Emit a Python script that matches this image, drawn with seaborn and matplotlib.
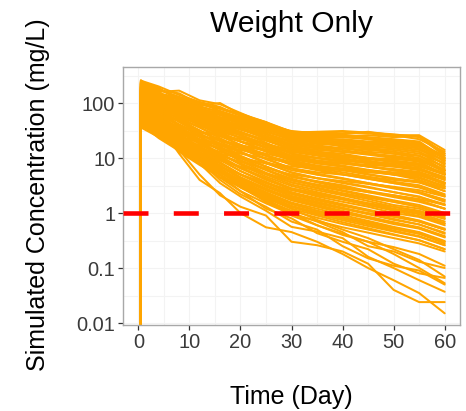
import matplotlib
matplotlib.use("Agg")
import matplotlib.pyplot as plt
import pandas as pd
import seaborn as sns
from matplotlib.ticker import FixedLocator, NullFormatter

# Sampling times (days); every profile starts from zero at the time of dosing
times = [0, 0.5, 4, 8, 12, 16, 20, 25, 30, 35, 40, 45, 50, 55, 60]

# Simulated concentrations (mg/L) per virtual subject at times[1:]
profiles = [
    [250, 175, 130, 100, 78, 60, 44, 30, 29, 30, 28, 25, 25, 12],
    [230, 160, 168, 112, 95, 66, 42, 29, 30, 31, 29, 26, 26, 14],
    [200, 180, 120, 90, 100, 62, 40, 28, 27, 28, 29, 27, 24, 11],
    [180, 140, 115, 85, 70, 52, 38, 27, 25, 26, 24, 22, 20, 10],
    [160, 130, 105, 80, 64, 50, 36, 26, 24, 24, 22, 21, 19, 9.5],
    [150, 120, 110, 75, 60, 46, 33, 24, 22, 22, 20, 19, 17, 8.5],
    [140, 115, 95, 70, 55, 42, 30, 22, 20, 19, 18, 17, 15, 7.5],
    [130, 105, 85, 66, 50, 40, 27, 20, 18, 17, 16, 15, 13, 6.5],
    [120, 100, 80, 60, 48, 36, 25, 18, 16, 15, 14, 13, 11, 6],
    [110, 95, 75, 57, 44, 33, 23, 16, 14, 13, 12, 11, 9.5, 5.5],
    [260, 150, 100, 70, 50, 35, 22, 14, 12, 11, 10, 9, 8, 5],
    [240, 140, 90, 60, 42, 30, 19, 12, 10, 9, 8, 7, 6.5, 4],
    [220, 130, 80, 55, 38, 26, 17, 11, 9, 8, 7, 6, 5.5, 3.5],
    [200, 120, 75, 50, 34, 23, 15, 10, 8, 7, 6, 5, 4.5, 3],
    [190, 110, 68, 44, 30, 20, 13, 9, 7, 6, 5, 4.2, 3.8, 2.5],
    [170, 100, 60, 40, 26, 17, 11, 7.5, 6, 5, 4.2, 3.5, 3, 2],
    [160, 95, 55, 36, 23, 15, 9.5, 6.5, 5, 4.2, 3.5, 2.9, 2.4, 1.7],
    [150, 85, 50, 32, 20, 13, 8, 5.5, 4.3, 3.6, 3, 2.4, 2, 1.4],
    [140, 80, 45, 28, 18, 11, 7, 4.8, 3.7, 3, 2.5, 2, 1.7, 1.2],
    [130, 75, 40, 25, 16, 10, 6.2, 4.2, 3.2, 2.6, 2.1, 1.7, 1.4, 1.0],
    [120, 70, 37, 22, 14, 8.8, 5.4, 3.6, 2.8, 2.2, 1.8, 1.4, 1.2, 0.85],
    [110, 62, 33, 20, 12, 7.6, 4.6, 3.1, 2.4, 1.9, 1.5, 1.2, 1.0, 0.7],
    [100, 56, 30, 18, 11, 6.6, 4, 2.7, 2.0, 1.6, 1.3, 1.0, 0.85, 0.6],
    [95, 50, 27, 16, 9.5, 5.8, 3.5, 2.3, 1.8, 1.4, 1.1, 0.9, 0.72, 0.5],
    [90, 46, 24, 14, 8.4, 5, 3, 2, 1.5, 1.2, 0.95, 0.75, 0.62, 0.42],
    [85, 42, 22, 12.5, 7.4, 4.4, 2.6, 1.7, 1.3, 1.0, 0.8, 0.63, 0.52, 0.36],
    [80, 38, 20, 11, 6.5, 3.8, 2.3, 1.5, 1.1, 0.85, 0.68, 0.54, 0.44, 0.3],
    [75, 35, 18, 10, 5.7, 3.3, 2, 1.3, 0.95, 0.74, 0.58, 0.46, 0.37, 0.26],
    [70, 32, 16, 9, 5, 2.9, 1.7, 1.1, 0.82, 0.63, 0.5, 0.4, 0.32, 0.22],
    [65, 30, 15, 8, 4.4, 2.5, 1.5, 0.95, 0.72, 0.55, 0.44, 0.35, 0.28, 0.2],
    [60, 45, 38, 30, 25, 20, 16, 13, 12, 11, 10, 9.5, 9, 6],
    [55, 40, 32, 26, 21, 17, 14, 11, 10, 9, 8.5, 8, 7, 5],
    [50, 36, 28, 22, 18, 15, 12, 9.5, 8.5, 8, 7.5, 7, 6, 4.5],
    [45, 32, 25, 19, 15, 12, 10, 8, 7, 6.5, 6, 5.5, 5, 3.5],
    [40, 30, 22, 17, 13, 10, 8, 6.5, 5.5, 5, 4.5, 4, 3.6, 2.8],
    [38, 27, 19, 14, 11, 8.5, 6.5, 5, 4.3, 3.8, 3.4, 3, 2.6, 2],
    [36, 24, 16, 12, 9, 7, 5.2, 4, 3.3, 2.8, 2.4, 2.1, 1.8, 1.4],
    [42, 25, 15, 10, 7, 5, 3.5, 2.6, 2.1, 1.8, 1.5, 1.3, 1.1, 0.8],
    [48, 26, 14, 9, 6, 4, 2.7, 1.9, 1.5, 1.2, 1.0, 0.85, 0.7, 0.5],
    [55, 28, 13, 7.5, 4.5, 3, 1.9, 1.3, 1, 0.8, 0.65, 0.52, 0.42, 0.3],
    [240, 190, 110, 70, 65, 45, 30, 22, 20, 16, 15, 12, 10, 6],
    [200, 110, 90, 80, 55, 48, 35, 25, 20, 18, 17, 15, 13, 8],
    [180, 160, 95, 65, 45, 40, 28, 17, 15, 13, 12.5, 10, 8.5, 5],
    [170, 90, 70, 50, 40, 28, 21, 15, 13, 11, 9, 7.5, 6.5, 4.2],
    [150, 100, 62, 48, 33, 26, 18, 12, 10, 8.5, 7, 6, 5, 3.3],
    [135, 85, 60, 42, 28, 20, 14, 9.5, 8, 7, 5.8, 5, 4, 2.8],
    [125, 70, 48, 30, 22, 16, 11, 7.8, 6.5, 5.5, 4.6, 3.7, 3.2, 2.2],
    [115, 60, 40, 28, 17, 13, 8.5, 6, 5, 4.2, 3.4, 2.8, 2.3, 1.6],
    [105, 58, 34, 21, 15, 10, 7, 4.5, 3.8, 3.2, 2.5, 2.1, 1.7, 1.2],
    [90, 52, 30, 20, 12, 8, 5.2, 3.6, 2.9, 2.3, 1.9, 1.6, 1.3, 0.9],
    [80, 44, 26, 15, 10, 6.5, 4.2, 2.8, 2.3, 1.8, 1.4, 1.15, 0.95, 0.65],
    [70, 40, 22, 13, 8, 5, 3.2, 2.2, 1.7, 1.35, 1.1, 0.88, 0.7, 0.5],
    [62, 36, 20, 11, 7, 4.2, 2.6, 1.8, 1.35, 1.05, 0.85, 0.68, 0.55, 0.38],
    [58, 30, 17, 9.5, 6, 3.6, 2.2, 1.45, 1.1, 0.85, 0.65, 0.52, 0.42, 0.28],
    [52, 30, 20, 15, 12, 10, 8, 7, 6.5, 6, 5.5, 5.2, 4.8, 3.5],
    [255, 200, 140, 105, 85, 58, 40, 31, 28, 27, 30, 26, 22, 13],
    [220, 170, 150, 95, 80, 64, 45, 26, 27, 25, 26, 24, 25, 12],
    [190, 150, 125, 100, 72, 55, 41, 30, 26, 24, 23, 20, 18, 11],
    [175, 135, 100, 88, 68, 50, 35, 25, 23, 21, 19, 18, 16, 10],
    [145, 125, 100, 72, 62, 48, 34, 23, 21, 20, 18, 16, 14, 9],
    [125, 110, 90, 68, 52, 44, 31, 21, 19, 17, 15, 14, 12, 8],
    [100, 90, 75, 60, 46, 38, 28, 19, 17, 15, 13, 12, 11, 7],
    [85, 80, 66, 52, 42, 33, 25, 17, 15, 13, 11.5, 10, 9, 6],
    [75, 68, 56, 45, 36, 28, 21, 15, 13, 11, 10, 8.5, 7.5, 5],
    [65, 58, 48, 38, 30, 24, 18, 13, 11, 9.5, 8.5, 7.5, 6.5, 4.5],
    [230, 125, 85, 62, 45, 34, 24, 16, 13, 12, 10, 8.5, 7.5, 5.2],
    [210, 115, 78, 55, 41, 30, 21, 14, 11.5, 10, 8.5, 7.2, 6.2, 4.3],
    [185, 105, 70, 50, 36, 26, 18, 12, 10, 8.5, 7.2, 6, 5.2, 3.6],
    [165, 95, 64, 45, 32, 23, 16, 10.5, 8.6, 7.3, 6.1, 5.1, 4.3, 3],
    [145, 88, 57, 40, 28, 20, 13.5, 9, 7.3, 6.2, 5.1, 4.3, 3.6, 2.5],
    [130, 78, 52, 36, 25, 17.5, 11.5, 7.6, 6.2, 5.1, 4.2, 3.5, 2.9, 2.1],
    [118, 70, 46, 31, 21, 15, 9.8, 6.5, 5.2, 4.3, 3.5, 2.9, 2.4, 1.75],
    [105, 64, 41, 27, 18.5, 12.5, 8.2, 5.4, 4.3, 3.5, 2.9, 2.4, 1.95, 1.45],
    [95, 57, 36, 24, 16, 10.8, 7, 4.6, 3.6, 2.9, 2.4, 1.95, 1.6, 1.2],
    [86, 52, 32, 21, 14, 9.2, 6, 3.9, 3.1, 2.5, 2.0, 1.6, 1.3, 0.95],
    [78, 47, 29, 18.5, 12, 7.8, 5, 3.3, 2.6, 2.1, 1.65, 1.3, 1.05, 0.78],
    [72, 42, 26, 16.5, 10.5, 6.8, 4.3, 2.8, 2.2, 1.75, 1.4, 1.1, 0.88, 0.64],
    [66, 38, 23, 14.5, 9.2, 5.8, 3.7, 2.4, 1.85, 1.45, 1.15, 0.92, 0.73, 0.52],
    [60, 34, 20.5, 12.8, 8.1, 5.1, 3.2, 2.05, 1.6, 1.25, 0.98, 0.78, 0.62, 0.44],
    [56, 31, 18.5, 11.5, 7.2, 4.5, 2.8, 1.8, 1.4, 1.1, 0.85, 0.67, 0.53, 0.37],
    [50, 28, 16.5, 10.2, 6.3, 3.9, 2.4, 1.55, 1.2, 0.92, 0.72, 0.56, 0.45, 0.31],
    [46, 25, 14.8, 9, 5.5, 3.4, 2.1, 1.35, 1.03, 0.79, 0.62, 0.48, 0.38, 0.26],
    [42, 23, 13.5, 8, 4.9, 3, 1.85, 1.2, 0.9, 0.68, 0.53, 0.41, 0.32, 0.22],
    [160, 140, 120, 95, 80, 62, 45, 30, 27, 26, 22, 19, 17, 10],
    [120, 105, 90, 78, 65, 52, 40, 29, 24, 21, 19, 17, 15, 9],
    [100, 92, 80, 66, 55, 45, 33, 24, 20, 17, 15, 13, 11, 7],
    [80, 72, 62, 52, 44, 35, 27, 20, 16, 14, 12, 10.5, 9, 5.8],
    [48, 42, 36, 30, 26, 22, 18, 14, 12, 10.5, 9.5, 8.5, 7.6, 5.3],
    [44, 38, 31, 25, 21, 17, 13.5, 10.5, 9, 8, 7, 6.3, 5.6, 4],
    [39, 33, 27, 21, 17, 14, 11, 8.5, 7.2, 6.3, 5.6, 5, 4.4, 3.1],
    # fast eliminators falling below the bulk of the population
    [90, 40, 12, 4, 2.3, 1.0, 0.55, 0.45, 0.3, 0.18, 0.1, 0.06, 0.035, 0.015],
    [85, 38, 14, 5, 2.1, 1.3, 0.9, 0.3, 0.26, 0.2, 0.12, 0.04, 0.024, 0.024],
    [100, 50, 20, 8, 3.5, 2, 1.1, 0.56, 0.46, 0.35, 0.16, 0.1, 0.06, 0.037],
    [110, 55, 25, 10, 5, 2.5, 1.2, 0.8, 0.43, 0.3, 0.22, 0.12, 0.08, 0.066],
    [70, 35, 18, 9, 4, 2.2, 1.3, 0.7, 0.5, 0.25, 0.15, 0.11, 0.09, 0.05],
    [80, 45, 22, 11, 6, 3, 1.6, 1.0, 0.6, 0.4, 0.3, 0.18, 0.1, 0.053],
    [95, 48, 24, 12, 6.5, 3.5, 2, 1.2, 0.75, 0.5, 0.35, 0.22, 0.14, 0.07],
    [75, 40, 20, 10, 5.5, 3.2, 1.8, 1.0, 0.7, 0.45, 0.25, 0.2, 0.13, 0.1],
    [65, 35, 17, 9.5, 5, 3, 1.7, 0.9, 0.6, 0.42, 0.3, 0.24, 0.18, 0.11],
]

target_conc = 1.0  # mg/L reference level

y_breaks = [0.01, 0.1, 1, 10, 100]
y_labels = ["0.01", "0.1", "1", "10", "100"]
x_breaks = [0, 10, 20, 30, 40, 50, 60]

records = []
for sid, conc in enumerate(profiles):
    for t, c in zip(times, [0.0] + conc):
        records.append({"subject": sid, "time": t, "conc": c})
df = pd.DataFrame(records)

sns.set_theme(style="white")
plt.rcParams["font.family"] = ["Liberation Sans", "DejaVu Sans"]
plt.rcParams["lines.scale_dashes"] = False

fig = plt.figure(figsize=(4.66, 4.11), dpi=100)
ax = fig.add_axes([123 / 466, 1 - 325 / 411, (460 - 123) / 466, (325 - 67) / 411])

sns.lineplot(data=df, x="time", y="conc", units="subject", estimator=None,
             color="#FFA500", linewidth=1.45, sort=True, legend=False, ax=ax)
ax.set_yscale("log")

ax.axhline(target_conc, color="#FF0000", linewidth=3.3,
           linestyle=(0, (18.0, 18.2)), solid_capstyle="butt",
           dash_capstyle="butt", zorder=5)

ax.set_xlim(-3, 63)
ax.set_ylim(0.0092, 452)

ax.yaxis.set_major_locator(FixedLocator(y_breaks))
ax.set_yticklabels(y_labels)
ax.yaxis.set_minor_locator(FixedLocator([10 ** (k + 0.5) for k in range(-3, 3)]))
ax.yaxis.set_minor_formatter(NullFormatter())
ax.xaxis.set_major_locator(FixedLocator(x_breaks))
ax.set_xticklabels([str(v) for v in x_breaks])
ax.xaxis.set_minor_locator(FixedLocator([5, 15, 25, 35, 45, 55]))

ax.grid(True, which="both", color="#F3F3F3", linewidth=0.8)
ax.set_axisbelow(True)
for s in ax.spines.values():
    s.set_visible(True)
    s.set_color("#A8A8A8")
    s.set_linewidth(1.0)

ax.tick_params(axis="both", which="major", direction="out", length=3.3,
               width=0.9, color="#333333", labelsize=14.4, labelcolor="#3A3A3A")
ax.tick_params(axis="x", which="major", pad=2.5, bottom=True)
ax.tick_params(axis="y", which="major", pad=2.2, left=True)
ax.tick_params(axis="both", which="minor", length=0)

ax.set_xlabel("")
ax.set_ylabel("")
fig.text(291 / 466, 1 - 404 / 411, "Time (Day)", fontsize=18, color="black",
         ha="center", va="baseline")
fig.text(38 / 466, 1 - 195 / 411, "Simulated Concentration (mg/L)", fontsize=18,
         color="black", rotation=90, ha="center", va="center")
fig.text(291 / 466, 1 - 32 / 411, "Weight Only", fontsize=21.6, color="black",
         ha="center", va="baseline")

fig.savefig("out.png", dpi=100)
